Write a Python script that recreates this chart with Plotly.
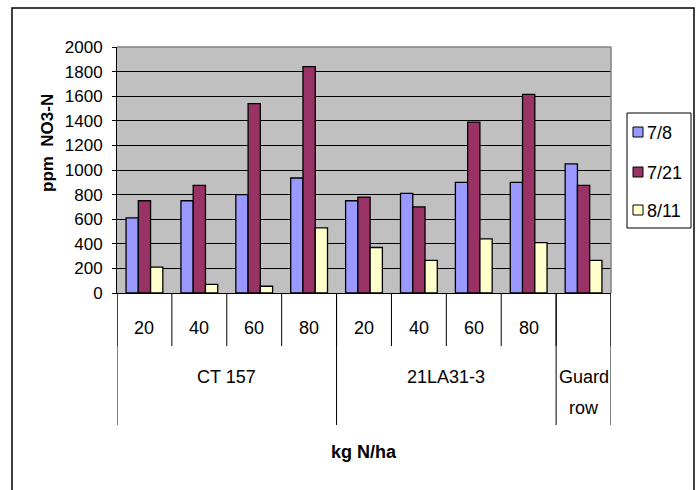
import plotly.graph_objects as go

# Nitrate readings by variety and N rate, for three sampling dates
varieties = ["CT 157", "21LA31-3", "Guard", "row"]
rates = ["20", "40", "60", "80", "20", "40", "60", "80", ""]
dates = ["7/8", "7/21", "8/11"]
vals_jul8 = [610, 750, 800, 935, 750, 810, 900, 900, 1050]
vals_jul21 = [750, 875, 1540, 1840, 780, 700, 1390, 1615, 875]
vals_aug11 = [210, 70, 55, 530, 370, 265, 440, 410, 265]
colors = ["#9999FF", "#993366", "#FFFFCC"]
y_ticks = list(range(0, 2001, 200))

FONT = "Liberation Sans, Arial, sans-serif"
W, H = 698, 490
L, R, T, B = 117, 87, 47, 197
PW, PH = W - L - R, H - T - B


def px(xp):
    """Horizontal pixel -> paper fraction."""
    return (xp - L) / PW


def py(yp):
    """Vertical pixel (from top) -> paper fraction."""
    return (H - B - yp) / PH


x = list(range(len(rates)))
fig = go.Figure()
for i, (name, vals) in enumerate(zip(dates, [vals_jul8, vals_jul21, vals_aug11])):
    fig.add_trace(go.Bar(
        x=x, y=vals, name=name, showlegend=False,
        marker=dict(color=colors[i], line=dict(color="black", width=1.3)),
    ))

shapes = []
annotations = []

# category tick marks below the axis
for b in range(len(rates) + 1):
    shapes.append(dict(type="line", xref="x", yref="paper", x0=b - 0.5, x1=b - 0.5,
                       y0=0, y1=py(346), line=dict(color="black", width=1)))
# variety dividers (longer)
for b in [-0.5, 3.5, 7.5, 8.5]:
    shapes.append(dict(type="line", xref="x", yref="paper", x0=b, x1=b,
                       y0=0, y1=py(425), line=dict(color="black", width=1)))

# rate labels
for i, r in enumerate(rates):
    if r:
        annotations.append(dict(x=i, y=py(328), xref="x", yref="paper", text=r,
                                showarrow=False, font=dict(size=18, family=FONT, color="black"),
                                xanchor="center", yanchor="middle"))
# variety labels (guard row label wraps onto two lines)
group_centers = [1.5, 5.5, 8, 8]
group_y = [py(377), py(377), py(377), py(408)]
for c, gy, v in zip(group_centers, group_y, varieties):
    annotations.append(dict(x=c, y=gy, xref="x", yref="paper", text=v, showarrow=False,
                            font=dict(size=18, family=FONT, color="black"),
                            xanchor="center", yanchor="middle"))

# axis titles
annotations.append(dict(x=0.5, y=py(452), xref="paper", yref="paper", text="<b>kg N/ha</b>",
                        showarrow=False, font=dict(size=18, family=FONT, color="black"),
                        xanchor="center", yanchor="middle"))
annotations.append(dict(x=px(47), y=py(143), xref="paper", yref="paper",
                        text="<b>ppm  NO3-N</b>", textangle=-90, showarrow=False,
                        font=dict(size=17, family=FONT, color="black"),
                        xanchor="center", yanchor="middle"))

# legend box with swatches
shapes.append(dict(type="rect", xref="paper", yref="paper", x0=px(627), x1=px(691),
                   y0=py(228), y1=py(113), line=dict(color="black", width=1),
                   fillcolor="white"))
for name, col, yc in zip(dates, colors, [132, 172, 210]):
    shapes.append(dict(type="rect", xref="paper", yref="paper", x0=px(633), x1=px(643),
                       y0=py(yc + 5), y1=py(yc - 5), line=dict(color="black", width=1),
                       fillcolor=col))
    annotations.append(dict(x=px(645), y=py(yc + 1), xref="paper", yref="paper", text=name,
                            showarrow=False, font=dict(size=18, family=FONT, color="black"),
                            xanchor="left", yanchor="middle"))

# plot-area top and right edges
shapes.append(dict(type="line", xref="paper", yref="paper", x0=0, x1=1, y0=1, y1=1,
                   line=dict(color="#808080", width=1.5)))
shapes.append(dict(type="line", xref="paper", yref="paper", x0=1, x1=1, y0=0, y1=1,
                   line=dict(color="#808080", width=1.5)))
# chart-area frame
shapes.append(dict(type="rect", xref="paper", yref="paper", x0=px(12), x1=px(694),
                   y0=py(510), y1=py(8), line=dict(color="black", width=1.5)))

fig.update_layout(
    width=W, height=H,
    margin=dict(l=L, r=R, t=T, b=B, autoexpand=False),
    paper_bgcolor="white", plot_bgcolor="#C0C0C0",
    barmode="group", bargap=0.33, bargroupgap=0,
    font=dict(family=FONT, size=17, color="black"),
    shapes=shapes, annotations=annotations,
    showlegend=False,
    xaxis=dict(range=[-0.5, 8.5], showticklabels=False, ticks="", showgrid=False,
               showline=True, linecolor="black", linewidth=1, zeroline=False,
               fixedrange=True),
    yaxis=dict(range=[0, 2000], tickvals=y_ticks, ticks="outside", ticklen=4,
               tickcolor="black", showgrid=True, gridcolor="black", gridwidth=1,
               showline=True, linecolor="black", linewidth=1, zeroline=False,
               ticklabelstandoff=6, tickfont=dict(size=17, family=FONT)),
)

fig.write_html("out.html")
